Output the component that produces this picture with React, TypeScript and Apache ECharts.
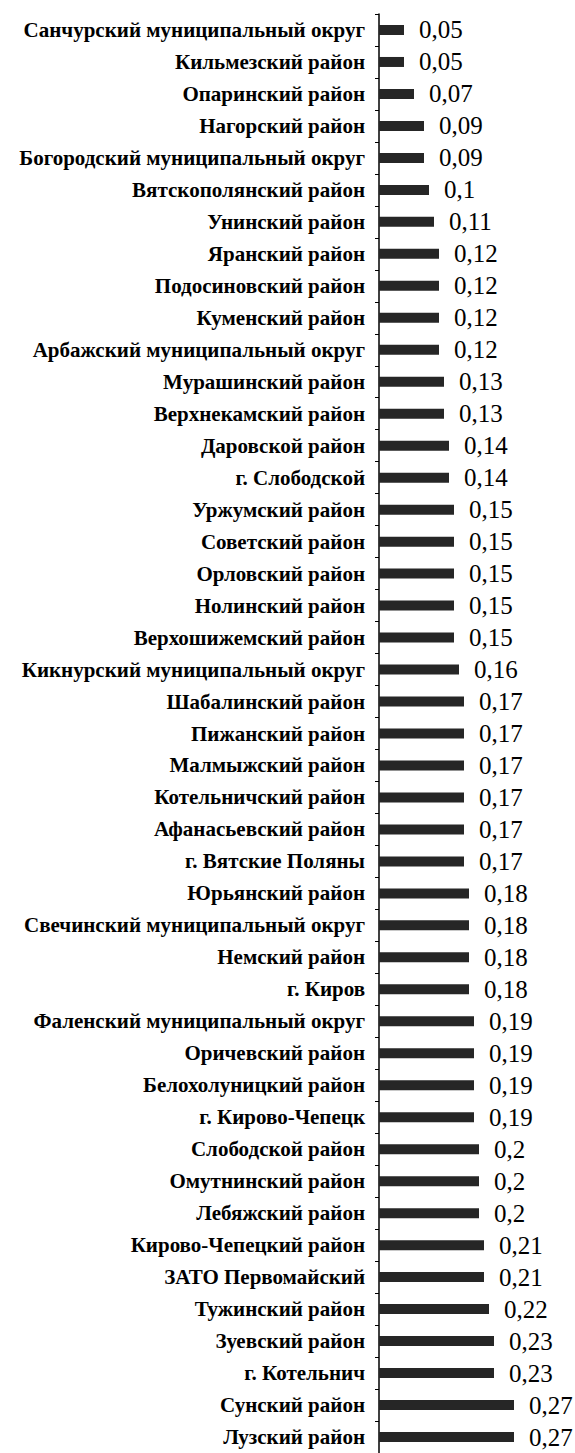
import React, { useEffect, useRef } from "react";
import * as echarts from "echarts";

const categories: string[] = [
  "Санчурский муниципальный округ",
  "Кильмезский район",
  "Опаринский район",
  "Нагорский район",
  "Богородский муниципальный округ",
  "Вятскополянский район",
  "Унинский район",
  "Яранский район",
  "Подосиновский район",
  "Куменский район",
  "Арбажский муниципальный округ",
  "Мурашинский район",
  "Верхнекамский район",
  "Даровской район",
  "г. Слободской",
  "Уржумский район",
  "Советский район",
  "Орловский район",
  "Нолинский район",
  "Верхошижемский район",
  "Кикнурский муниципальный округ",
  "Шабалинский район",
  "Пижанский район",
  "Малмыжский район",
  "Котельничский район",
  "Афанасьевский район",
  "г. Вятские Поляны",
  "Юрьянский район",
  "Свечинский муниципальный округ",
  "Немский район",
  "г. Киров",
  "Фаленский муниципальный округ",
  "Оричевский район",
  "Белохолуницкий район",
  "г. Кирово-Чепецк",
  "Слободской район",
  "Омутнинский район",
  "Лебяжский район",
  "Кирово-Чепецкий район",
  "ЗАТО Первомайский",
  "Тужинский район",
  "Зуевский район",
  "г. Котельнич",
  "Сунский район",
  "Лузский район",
];

const values: number[] = [
  0.05, 0.05, 0.07, 0.09, 0.09, 0.1, 0.11, 0.12, 0.12, 0.12, 0.12, 0.13, 0.13,
  0.14, 0.14, 0.15, 0.15, 0.15, 0.15, 0.15, 0.16, 0.17, 0.17, 0.17, 0.17, 0.17,
  0.17, 0.18, 0.18, 0.18, 0.18, 0.19, 0.19, 0.19, 0.19, 0.2, 0.2, 0.2, 0.21,
  0.21, 0.22, 0.23, 0.23, 0.27, 0.27,
];

const SERIF = "'Liberation Serif', 'Times New Roman', serif";

export default function App() {
  const ref = useRef<HTMLDivElement>(null);
  useEffect(() => {
    if (!ref.current) return;
    const chart = echarts.init(ref.current, undefined, { renderer: "svg" });
    chart.setOption({
      animation: false,
      backgroundColor: "#ffffff",
      textStyle: { fontFamily: SERIF },
      grid: { left: 379, top: 14, height: 1442, right: 6, containLabel: false },
      xAxis: {
        type: "value",
        min: 0,
        max: 0.38,
        show: false,
      },
      yAxis: {
        type: "category",
        inverse: true,
        data: categories,
        axisLine: { show: true, lineStyle: { color: "#000", width: 1.5 } },
        axisTick: { show: true, length: 4, lineStyle: { color: "#000", width: 1 } },
        axisLabel: {
          color: "#000",
          fontFamily: SERIF,
          fontWeight: "bold",
          fontSize: 21,
          margin: 14,
        },
        splitLine: { show: false },
      },
      series: [
        {
          type: "bar",
          data: values,
          barWidth: 10,
          itemStyle: { color: "#262626" },
          label: {
            show: true,
            position: "right",
            distance: 15,
            color: "#000",
            fontFamily: SERIF,
            fontSize: 25,
            formatter: (p: any) => String(p.value).replace(".", ","),
          },
        },
      ],
    });
    return () => chart.dispose();
  }, []);
  return (
    <div
      ref={ref}
      style={{ position: "absolute", left: 0, top: 0, width: 575, height: 1453 }}
    />
  );
}
